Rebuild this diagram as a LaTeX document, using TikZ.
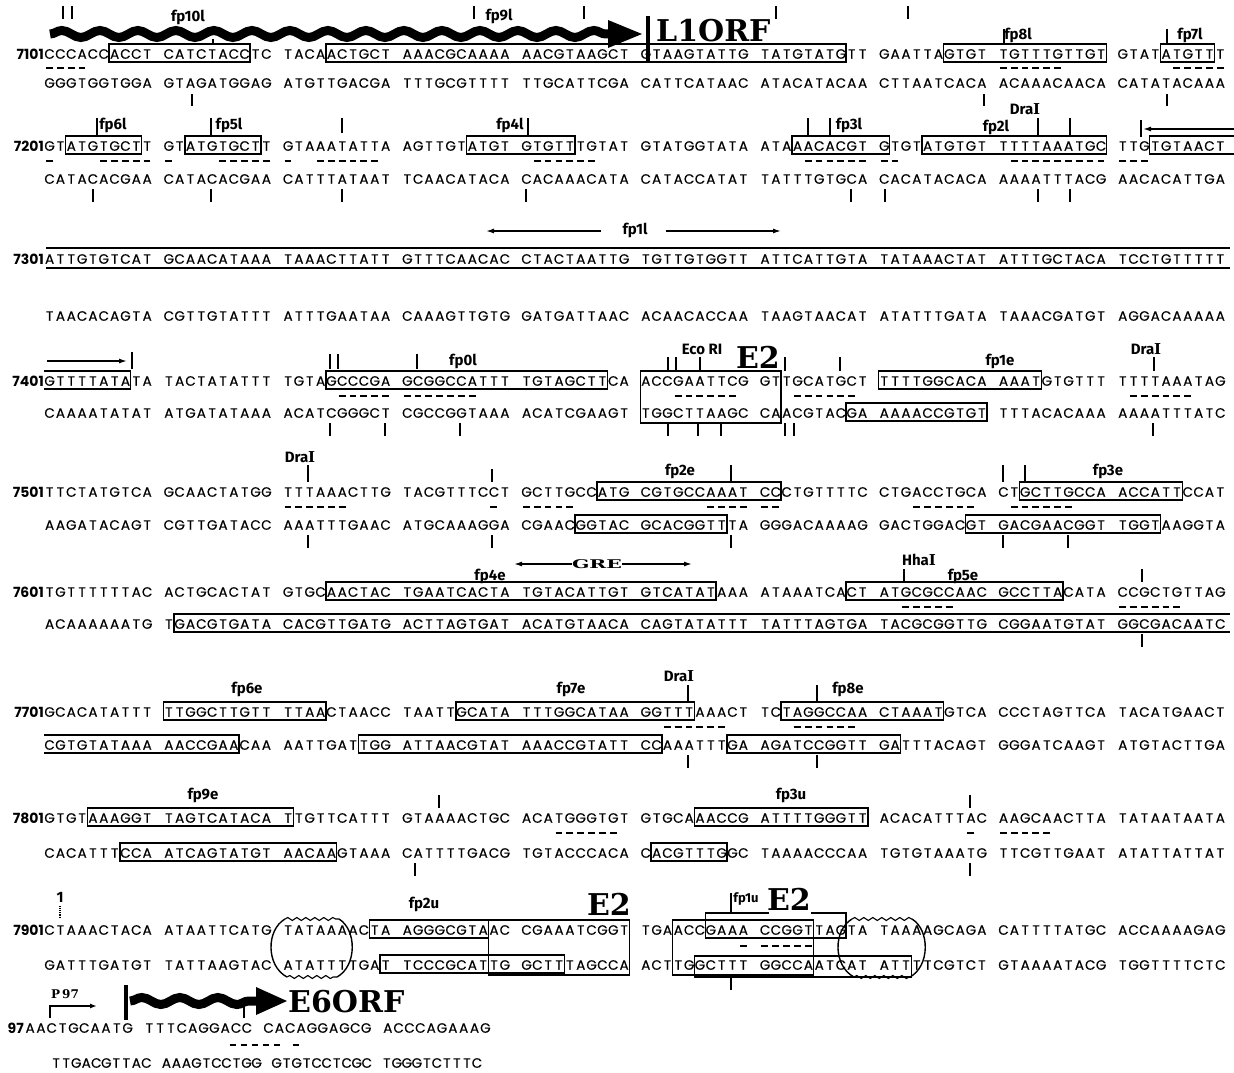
\documentclass[tikz,border=0pt]{standalone}
\usepackage{fontspec}
\setmainfont{Poppins}
\newfontfamily\seqfont{Poppins}[FakeBold=0.5]
\newfontfamily\lblfont{Fira Sans}
\newfontfamily\orffont{DejaVu Serif}
\usetikzlibrary{decorations.pathmorphing, arrows.meta}

\newlength\seqpitch
\setlength\seqpitch{10.84pt}
\def\mono#1{\expandafter\monoA#1\relax}
\def\monoA#1{\ifx\relax#1\else\makebox[\seqpitch][c]{#1}\expandafter\monoA\fi}
\newcommand\DraI{Dra{\orffont\bfseries I}}

\tikzset{
  declare function={cx(\i)=44+floor(\i/10)*119.24+(\i-10*floor(\i/10))*10.84+5.42;},
  seqtxt/.style={anchor=west, inner sep=0pt, font=\seqfont\fontsize{13.5}{13.5}\selectfont},
  numtxt/.style={anchor=east, inner sep=0pt, font=\fontsize{14}{14}\selectfont\bfseries},
  lbl/.style={inner sep=0pt, font=\lblfont\bfseries\fontsize{15}{15}\selectfont},
  orflbl/.style={inner sep=0pt, font=\orffont\bfseries\fontsize{30}{30}\selectfont},
  boxln/.style={line width=1.4pt},
  tickln/.style={line width=1.1pt},
  dashln/.style={line width=1.1pt},
  orfwave/.style={line width=9pt, decorate,
                  decoration={snake, segment length=38pt, amplitude=3.5pt}},
  tatawave/.style={line width=1.1pt, decorate,
                  decoration={snake, segment length=9pt, amplitude=1.5pt}},
  rptarrow/.style={-{Latex[length=8pt, width=5pt]}, line width=1.4pt},
}

% groups of ten bases: name, y, x of first group, group step, bases
\newcommand\seqrow[5]{%
  \foreach \g [count=\k from 0] in {#5}
    \node[seqtxt] (#1\k) at ({#3+\k*#4},#2) {\mono{\g}};}
\newcommand\seqbox[3]{\draw[boxln] ({cx(#2)-5.42},#1-10) rectangle ({cx(#3)+5.42},#1+8);}
\newcommand\seqdash[3]{\foreach \i in {#2,...,#3}
  \draw[dashln] ({cx(\i)-3.4},#1) -- ({cx(\i)+3.4},#1);}
\newcommand\seqtick[3]{\foreach \x in {#1} \draw[tickln] (\x,#2) -- (\x,#3);}

\begin{document}
\begin{tikzpicture}[x=1pt, y=-1pt]
  \useasboundingbox (0,0) rectangle (1234,1073);

  % ---- 7101 ----
  \node[numtxt] (n7101) at (44,54) {7101};
  \seqrow{t1-}{54}{44}{119.24}{CCCACCACCT,CATCTACCTC,TACAACTGCT,AAACGCAAAA,AACGTAAGCT,GTAAGTATTG,TATGTATGTT,GAATTAGTGT,TGTTTGTTGT,GTATATGTTT}
  \seqrow{b1-}{83}{44}{119.24}{GGGTGGTGGA,GTAGATGGAG,ATGTTGACGA,TTTGCGTTTT,TTGCATTCGA,CATTCATAAC,ATACATACAA,CTTAATCACA,ACAAACAACA,CATATACAAA}
  \seqbox{54}{6}{17} \seqbox{54}{24}{67} \seqbox{54}{76}{89} \seqbox{54}{94}{98}
  \seqdash{68}{0}{3} \seqdash{68}{80}{85} \seqdash{68}{95}{99}
  \seqtick{63,72,474,584,776,908}{6}{19}
  \seqtick{1004,1167}{29}{44}
  \seqtick{213}{39}{44}
  \seqtick{192,984,1167}{94}{106}
  \node[lbl] (fp10l) at (188,17) {fp10l};
  \node[lbl] (fp9l) at (499,16) {fp9l};
  \node[lbl] (fp8l) at (1018,35) {fp8l};
  \node[lbl] (fp7l) at (1190,35) {fp7l};
  \draw[orfwave] (50,34) -- (612,34);
  \fill (608,20) -- (642,34) -- (608,48) -- cycle;
  \draw[line width=3.5pt] (648,16) -- (648,63);
  \node[orflbl, anchor=south west] (l1orf) at (656,42) {L1ORF};

  % ---- 7201 ----
  \node[numtxt] (n7201) at (44,146) {7201};
  \seqrow{t2-}{146}{44}{119.24}{GTATGTGCTT,GTATGTGCTT,GTAAATATTA,AGTTGTATGT,GTGTTTGTAT,GTATGGTATA,ATAAACACGT,GTGTATGTGT,TTTTAAATGC,TTGTGTAACT}
  \seqrow{b2-}{179}{44}{119.24}{CATACACGAA,CATACACGAA,CATTTATAAT,TCAACATACA,CACAAACATA,CATACCATAT,TATTTGTGCA,CACATACACA,AAAATTTACG,AACACATTGA}
  \seqbox{146}{2}{8} \seqbox{146}{12}{18} \seqbox{146}{36}{44}
  \seqbox{146}{63}{70} \seqbox{146}{74}{89}
  \draw[boxln] (1234,136) -- ({cx(93)-5.42},136) -- ({cx(93)-5.42},154) -- (1234,154);
  \seqdash{161}{0}{0} \seqdash{161}{5}{9} \seqdash{161}{10}{10} \seqdash{161}{15}{19}
  \seqdash{161}{20}{20} \seqdash{161}{23}{28} \seqdash{161}{41}{46} \seqdash{161}{64}{69}
  \seqdash{161}{70}{71} \seqdash{161}{81}{89} \seqdash{161}{90}{92}
  \seqtick{97,211,528,808,830,1038,1070}{118}{136}
  \seqtick{342}{118}{133}
  \seqtick{93,211,342,526,851,885,1038,1070}{189}{202}
  \node[lbl] (fp6l) at (113,125) {fp6l};
  \node[lbl] (fp5l) at (229,125) {fp5l};
  \node[lbl] (fp4l) at (510,125) {fp4l};
  \node[lbl] (fp3l) at (849,125) {fp3l};
  \node[lbl] (fp2l) at (996,127) {fp2l};
  \node[lbl] (dra1) at (1025,109) {\DraI};
  \coordinate (fp1lstart) at (1234,129);
  \draw[tickln] (1141,120) -- (1141,137);
  \draw[rptarrow] (fp1lstart) -- (1143,129);

  % ---- 7301 ----
  \node[numtxt] (n7301) at (44,259) {7301};
  \seqrow{t3-}{259}{44}{119.24}{ATTGTGTCAT,GCAACATAAA,TAAACTTATT,GTTTCAACAC,CTACTAATTG,TGTTGTGGTT,ATTCATTGTA,TATAAACTAT,ATTTGCTACA,TCCTGTTTTT}
  \seqrow{b3-}{316}{44}{119.24}{TAACACAGTA,CGTTGTATTT,ATTTGAATAA,CAAAGTTGTG,GATGATTAAC,ACAACACCAA,TAAGTAACAT,ATATTTGATA,TAAACGATGT,AGGACAAAAA}
  \draw[boxln] (46,248) -- (1230,248);
  \draw[boxln] (46,268) -- (1230,268);
  \node[lbl] (fp1l) at (635,230) {fp1l};
  \draw[rptarrow] (601,231) -- (486,231);
  \draw[rptarrow] (666,231) -- (781,231);

  % ---- 7401 ----
  \node[numtxt] (n7401) at (44,381) {7401};
  \seqrow{t4-}{381}{44}{119.24}{GTTTTATATA,TACTATATTT,TGTAGCCCGA,GCGGCCATTT,TGTAGCTTCA,ACCGAATTCG,GTTGCATGCT,TTTTGGCACA,AAATGTGTTT,TTTTAAATAG}
  \seqrow{b4-}{413}{44}{119.24}{CAAAATATAT,ATGATATAAA,ACATCGGGCT,CGCCGGTAAA,ACATCGAAGT,TGGCTTAAGC,CAACGTACGA,AAAACCGTGT,TTTACACAAA,AAAATTTATC}
  \draw[boxln] (44,371) -- ({cx(7)+5.42},371) -- ({cx(7)+5.42},389) -- (44,389);
  \seqbox{381}{24}{47} \seqbox{381}{70}{83} \seqbox{413}{68}{79}
  \draw[boxln] ({cx(50)-5.42},371) rectangle ({cx(61)+5.42},423);
  \seqdash{396}{25}{29} \seqdash{396}{30}{36} \seqdash{396}{53}{58}
  \seqdash{396}{63}{68} \seqdash{396}{91}{96}
  \draw[rptarrow] (47,361) -- (127,361);
  \seqtick{132}{352}{369}
  \seqtick{330,338,417}{354}{369}
  \seqtick{668,676,700,785,840,1154}{357}{371}
  \seqtick{330,385,460,668,698,721,785,794,1153}{423}{436}
  \node[lbl] (fp0l) at (463,361) {fp0l};
  \node[lbl] (ecori) at (702,349) {Eco RI};
  \node[orflbl, anchor=south east] (e2a) at (780,369) {E2};
  \node[lbl] (fp1e) at (1000,361) {fp1e};
  \node[lbl] (dra2) at (1146,349) {\DraI};

  % ---- 7501 ----
  \node[numtxt] (n7501) at (44,492) {7501};
  \seqrow{t5-}{492}{44}{119.24}{TTCTATGTCA,GCAACTATGG,TTTAAACTTG,TACGTTTCCT,GCTTGCCATG,CGTGCCAAAT,CCCTGTTTTC,CTGACCTGCA,CTGCTTGCCA,ACCATTCCAT}
  \seqrow{b5-}{525}{44}{119.24}{AAGATACAGT,CGTTGATACC,AAATTTGAAC,ATGCAAAGGA,CGAACGGTAC,GCACGGTTTA,GGGACAAAAG,GACTGGACGT,GACGAACGGT,TGGTAAGGTA}
  \seqbox{492}{47}{61} \seqbox{492}{82}{95} \seqbox{525}{45}{57} \seqbox{525}{78}{93}
  \seqdash{507}{20}{25} \seqdash{507}{38}{38} \seqdash{507}{40}{44} \seqdash{507}{56}{59}
  \seqdash{507}{60}{61} \seqdash{507}{73}{78} \seqdash{507}{81}{86}
  \seqtick{308,731,1003,1025}{465}{482}
  \seqtick{492}{469}{482}
  \seqtick{308,492,731,1003,1068}{535}{548}
  \node[lbl] (dra3) at (300,457) {\DraI};
  \node[lbl] (fp2e) at (680,471) {fp2e};
  \node[lbl] (fp3e) at (1108,471) {fp3e};

  % ---- 7601 ----
  \node[numtxt] (n7601) at (44,592) {7601};
  \seqrow{t6-}{592}{44}{119.24}{TGTTTTTTAC,ACTGCACTAT,GTGCAACTAC,TGAATCACTA,TGTACATTGT,GTCATATAAA,ATAAATCACT,ATGCGCCAAC,GCCTTACATA,CCGCTGTTAG}
  \seqrow{b6-}{624}{44}{119.24}{ACAAAAAATG,TGACGTGATA,CACGTTGATG,ACTTAGTGAT,ACATGTAACA,CAGTATATTT,TATTTAGTGA,TACGCGGTTG,CGGAATGTAT,GGCGACAATC}
  \seqbox{592}{24}{56} \seqbox{592}{68}{85}
  \draw[boxln] (1230,614) -- ({cx(11)-5.42},614) -- ({cx(11)-5.42},632) -- (1230,632);
  \seqdash{607}{72}{76} \seqdash{607}{90}{95}
  \seqtick{904,1142}{569}{582}
  \seqtick{1142}{634}{647}
  \node[inner sep=0pt, font=\orffont\bfseries\fontsize{12}{12}\selectfont] (gre) at (597,564) {\scalebox{1.7}[1]{GRE}};
  \draw[rptarrow] (gre.west) -- (514,564);
  \draw[rptarrow] (gre.east) -- (692,564);
  \node[lbl] (fp4e) at (490,576) {fp4e};
  \node[lbl] (hha) at (919,560) {Hha{\orffont\bfseries I}};
  \node[lbl] (fp5e) at (963,576) {fp5e};

  % ---- 7701 ----
  \node[numtxt] (n7701) at (44,712) {7701};
  \seqrow{t7-}{712}{44}{119.24}{GCACATATTT,TTGGCTTGTT,TTAACTAACC,TAATTGCATA,TTTGGCATAA,GGTTTAAACT,TCTAGGCCAA,CTAAATGTCA,CCCTAGTTCA,TACATGAACT}
  \seqrow{b7-}{745}{44}{119.24}{CGTGTATAAA,AACCGAACAA,AATTGATTGG,ATTAACGTAT,AAACCGTATT,CCAAATTTGA,AGATCCGGTT,GATTTACAGT,GGGATCAAGT,ATGTACTTGA}
  \seqbox{712}{10}{23} \seqbox{712}{35}{54} \seqbox{712}{62}{75}
  \draw[boxln] (44,735) -- ({cx(16)+5.42},735) -- ({cx(16)+5.42},753) -- (44,753);
  \seqbox{745}{27}{51} \seqbox{745}{58}{71}
  \seqdash{727}{52}{57} \seqdash{727}{63}{68}
  \seqtick{688,817}{685}{702}
  \seqtick{688,817}{755}{768}
  \node[lbl] (fp6e) at (247,689) {fp6e};
  \node[lbl] (fp7e) at (571,689) {fp7e};
  \node[lbl] (dra4) at (679,676) {\DraI};
  \node[lbl] (fp8e) at (848,689) {fp8e};

  % ---- 7801 ----
  \node[numtxt] (n7801) at (44,818) {7801};
  \seqrow{t8-}{818}{44}{119.24}{GTGTAAAGGT,TAGTCATACA,TTGTTCATTT,GTAAAACTGC,ACATGGGTGT,GTGCAAACCG,ATTTTGGGTT,ACACATTTAC,AAGCAACTTA,TATAATAATA}
  \seqrow{b8-}{853}{44}{119.24}{CACATTTCCA,ATCAGTATGT,AACAAGTAAA,CATTTTGACG,TGTACCCACA,CACGTTTGGC,TAAAACCCAA,TGTGTAAATG,TTCGTTGAAT,ATATTATTAT}
  \seqbox{818}{4}{20} \seqbox{818}{55}{69} \seqbox{853}{7}{24} \seqbox{853}{51}{57}
  \seqdash{833}{43}{48} \seqdash{833}{78}{78} \seqdash{833}{80}{84}
  \seqtick{439,970}{795}{808}
  \seqtick{415,970}{863}{876}
  \node[lbl] (fp9e) at (203,795) {fp9e};
  \node[lbl] (fp3u) at (791,795) {fp3u};

  % ---- 7901 ----
  \node[numtxt] (n7901) at (44,930) {7901};
  \seqrow{t9-}{930}{44}{119.24}{CTAAACTACA,ATAATTCATG,TATAAAACTA,AGGGCGTAAC,CGAAATCGGT,TGAACCGAAA,CCGGTTAGTA,TAAAAGCAGA,CATTTTATGC,ACCAAAAGAG}
  \seqrow{b9-}{965}{44}{119.24}{GATTTGATGT,TATTAAGTAC,ATATTTTGAT,TCCCGCATTG,GCTTTAGCCA,ACTTGGCTTT,GGCCAATCAT,ATTTTCGTCT,GTAAAATACG,TGGTTTTCTC}
  \seqbox{930}{28}{37}
  \draw[boxln] ({cx(38)-5.42},920) rectangle ({cx(49)+5.42},975);
  \draw[boxln] ({cx(29)-5.42},955) rectangle ({cx(43)+5.42},973);
  \draw[boxln] ({cx(53)-5.42},920) rectangle ({cx(64)+5.42},975);
  \draw[boxln] (769,913) -- ({cx(56)-5.42},913) -- ({cx(56)-5.42},938)
               -- ({cx(67)+5.42},938) -- ({cx(67)+5.42},913) -- (811,913);
  \draw[boxln] ({cx(55)-5.42},956) rectangle ({cx(72)+5.42},977);
  % TATA ovals
  \draw[boxln] (285,919) .. controls (266,930) and (266,966) .. (287,977);
  \draw[boxln] (339,919) .. controls (357,930) and (357,966) .. (337,977);
  \draw[tatawave] (285,919) -- (339,919);
  \draw[tatawave] (287,977) -- (337,977);
  \draw[boxln] (852,919) .. controls (833,930) and (833,966) .. (854,977);
  \draw[boxln] (912,919) .. controls (930,930) and (930,966) .. (910,977);
  \draw[tatawave] (852,919) -- (912,919);
  \draw[tatawave] (854,977) -- (910,977);
  \seqdash{946}{59}{59} \seqdash{946}{60}{64}
  \seqtick{731}{893}{913}
  \seqtick{731}{977}{990}
  \draw[tickln, densely dotted] (60,906) -- (60,918);
  \node[lbl] (one) at (60,897) {1};
  \node[lbl] (fp2u) at (424,904) {fp2u};
  \node[orflbl, anchor=south east] (e2b) at (631,916) {E2};
  \node[lbl, font=\lblfont\bfseries\fontsize{13}{13}\selectfont] (fp1u) at (746,899) {fp1u};
  \node[orflbl, anchor=south east] (e2c) at (811,911) {E2};

  % ---- 97 ----
  \node[numtxt] (n97) at (24,1028) {97};
  \seqrow{t10-}{1028}{24.5}{119.24}{AACTGCAATG,TTTCAGGACC,CACAGGAGCG,ACCCAGAAAG}
  \foreach \g [count=\k from 0] in {TTGACGTTAC,AAAGTCCTGG,GTGTCCTCGC,TGGGTCTTTC}
    \node[seqtxt] (b10-\k) at ({51+\k*110.2},1063) {\setlength\seqpitch{10.02pt}\mono{\g}};
  \foreach \x in {233,244,255,266,277,296}
    \draw[dashln] (\x-3.4,1045) -- (\x+3.4,1045);
  \node[inner sep=0pt, font=\orffont\bfseries\fontsize{12}{12}\selectfont] (p97) at (65,994) {P\,97};
  \coordinate (p97foot) at (50,1018);
  \draw[-{Latex[length=7pt, width=5pt]}, line width=1.6pt] (p97foot) |- (97,1006);
  \draw[line width=4pt] (126,985) -- (126,1020);
  \draw[orfwave] (130,1001) -- (260,1001);
  \fill (256,987) -- (287,1001) -- (256,1015) -- cycle;
  \seqtick{244}{1006}{1018}
  \node[orflbl, anchor=west] (e6orf) at (288,1002) {E6ORF};
\end{tikzpicture}
\end{document}
